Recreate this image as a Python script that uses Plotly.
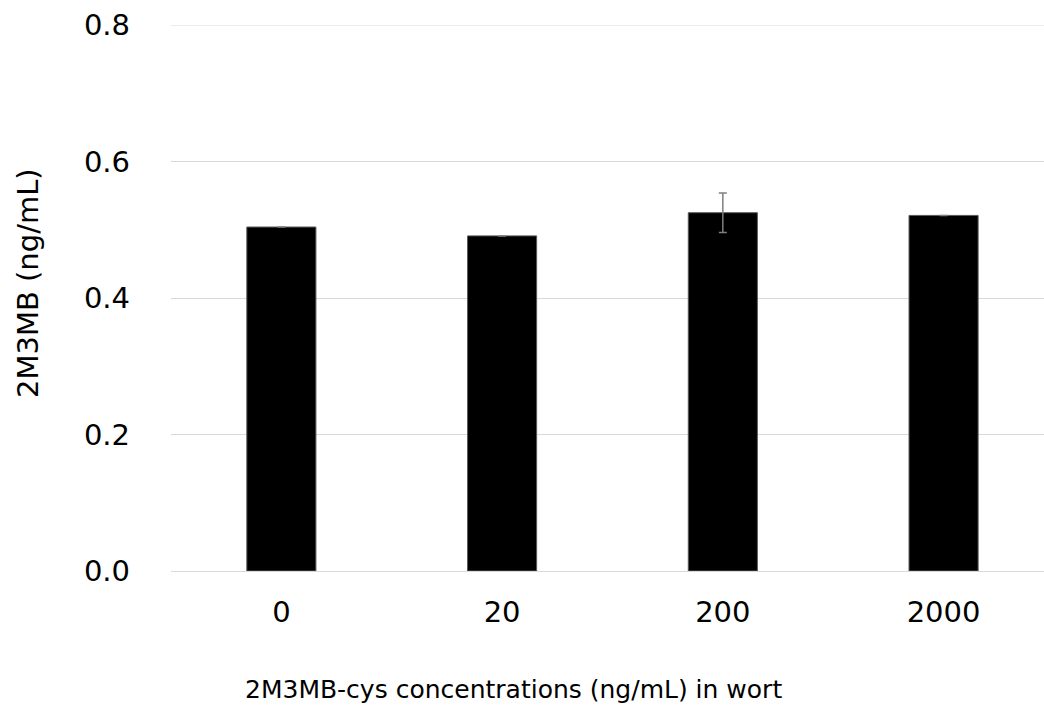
import plotly.graph_objects as go

categories = ["0", "20", "200", "2000"]
values = [0.504, 0.491, 0.525, 0.521]
errors = [0, 0, 0.029, 0]
y_ticks = [0.0, 0.2, 0.4, 0.6, 0.8]
y_tick_labels = ["0.0", "0.2", "0.4", "0.6", "0.8"]
x_title = "2M3MB-cys concentrations (ng/mL) in wort"
y_title = "2M3MB (ng/mL)"

FONT = "DejaVu Sans"
L, R, T, B = 171, 0, 25, 135
W, H = 1044, 706
PW = W - L - R
PH = H - T - B

fig = go.Figure()
fig.add_trace(go.Bar(
    x=list(range(len(categories))),
    y=values,
    width=0.313,
    marker=dict(color="#000000", line=dict(color="#595959", width=1)),
    error_y=dict(type="data", array=errors, visible=True, color="#7f7f7f",
                 thickness=1.5, width=4),
))

fig.update_layout(
    width=W, height=H,
    margin=dict(l=L, r=R, t=T, b=B),
    plot_bgcolor="white", paper_bgcolor="white",
    showlegend=False,
    font=dict(family=FONT, color="#000000", size=29),
    xaxis=dict(
        range=[-0.5, 3.455],
        tickmode="array", tickvals=list(range(len(categories))), ticktext=categories,
        showgrid=False, zeroline=False, showline=False,
        ticks="", ticklabelstandoff=21,
        tickfont=dict(size=29),
    ),
    yaxis=dict(
        range=[0, 0.8],
        tickmode="array", tickvals=y_ticks, ticktext=y_tick_labels,
        showgrid=True, gridcolor="#d9d9d9", gridwidth=1,
        zeroline=True, zerolinecolor="#d9d9d9", zerolinewidth=1,
        showline=False, ticks="", ticklabelstandoff=40,
        tickfont=dict(size=29),
    ),
    shapes=[dict(type="line", xref="paper", yref="y", x0=0, x1=1, y0=0.8, y1=0.8,
                 line=dict(color="#d9d9d9", width=1), layer="below")],
    annotations=[
        dict(text=x_title, xref="paper", yref="paper",
             x=(513.5 - L) / PW, y=-(689 - (T + PH)) / PH,
             xanchor="center", yanchor="middle", showarrow=False,
             font=dict(size=25, family=FONT, color="#000000")),
        dict(text=y_title, xref="paper", yref="paper",
             x=(28 - L) / PW, y=((T + PH) - 283) / PH,
             xanchor="center", yanchor="middle", showarrow=False, textangle=-90,
             font=dict(size=29, family=FONT, color="#000000")),
    ],
)

fig.write_html("out.html")
